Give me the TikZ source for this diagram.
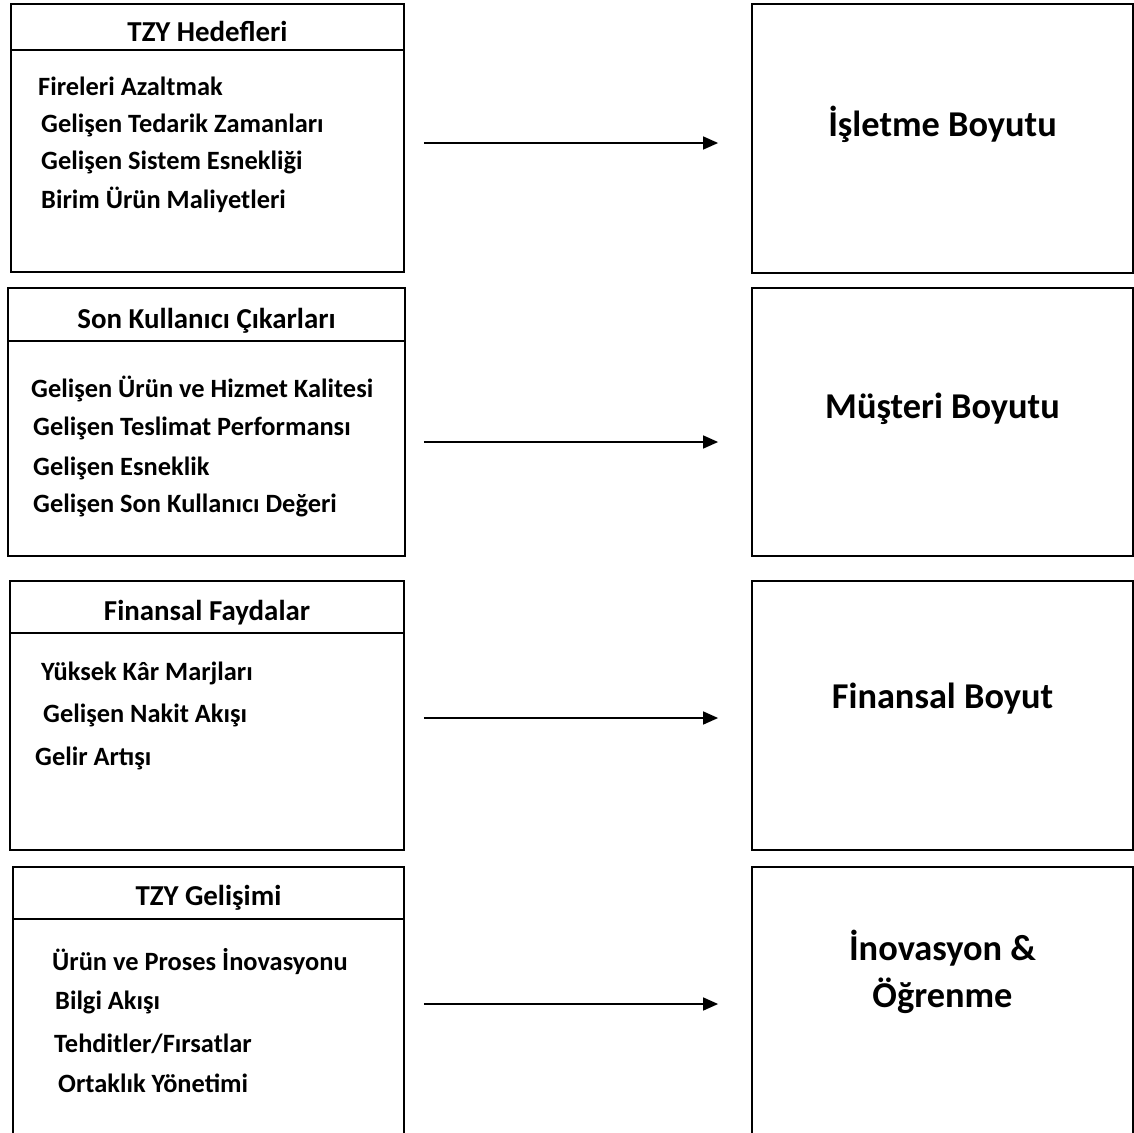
\documentclass[tikz,border=0pt]{standalone}
\usepackage{fontspec}
\setmainfont{Carlito}
\usetikzlibrary{arrows.meta}

\begin{document}
\begin{tikzpicture}[x=1bp,y=-1bp,
  box/.style={draw, line width=1.8bp, inner sep=0pt},
  rule/.style={line width=1.5bp},
  head/.style={font=\fontsize{29}{34}\selectfont\bfseries, anchor=base, inner sep=0pt},
  item/.style={font=\fontsize{26.5}{32}\selectfont\bfseries, anchor=base west, inner sep=0pt},
  dimtext/.style={font=\fontsize{36.5}{47}\selectfont\bfseries, anchor=base, inner sep=0pt, align=center},
  flow/.style={line width=1.5bp, -{Triangle[length=15bp,width=13bp]}}
]
\clip (0,0) rectangle (1134,1133);
\fill[white] (0,0) rectangle (1134,1133);

% left column: source boxes with a header strip
\node[box, minimum width=393bp, minimum height=268bp] (L1) at (207.5,138) {};
\node[box, minimum width=397bp, minimum height=268bp] (L2) at (206.5,422) {};
\node[box, minimum width=394bp, minimum height=269bp] (L3) at (207,715.5) {};
\node[box, minimum width=391bp, minimum height=283bp] (L4) at (208.5,1008.5) {};

\draw[rule] (L1.west |- 0,50)  -- (L1.east |- 0,50);
\draw[rule] (L2.west |- 0,341) -- (L2.east |- 0,341);
\draw[rule] (L3.west |- 0,633) -- (L3.east |- 0,633);
\draw[rule] (L4.west |- 0,919) -- (L4.east |- 0,919);

% right column: scorecard dimensions
\node[box, minimum width=381bp, minimum height=269bp] (R1) at (942.5,138.5) {};
\node[box, minimum width=381bp, minimum height=268bp] (R2) at (942.5,422) {};
\node[box, minimum width=381bp, minimum height=269bp] (R3) at (942.5,715.5) {};
\node[box, minimum width=381bp, minimum height=283bp] (R4) at (942.5,1008.5) {};

% headers
\node[head] (h1) at (207.5,41)  {TZY Hedefleri};
\node[head] (h2) at (206.5,328) {Son Kullanıcı Çıkarları};
\node[head] (h3) at (207,620)   {Finansal Faydalar};
\node[head] (h4) at (208.5,905) {TZY Gelişimi};

% items
\node[item] (a1) at (38,95)  {Fireleri Azaltmak};
\node[item] (a2) at (41,132) {Gelişen Tedarik Zamanları};
\node[item] (a3) at (41,169) {Gelişen Sistem Esnekliği};
\node[item] (a4) at (41,208) {Birim Ürün Maliyetleri};

\node[item] (b1) at (31,397) {Gelişen Ürün ve Hizmet Kalitesi};
\node[item] (b2) at (33,435) {Gelişen Teslimat Performansı};
\node[item] (b3) at (33,475) {Gelişen Esneklik};
\node[item] (b4) at (33,512) {Gelişen Son Kullanıcı Değeri};

\node[item] (c1) at (41,680) {Yüksek Kâr Marjları};
\node[item] (c2) at (43,722) {Gelişen Nakit Akışı};
\node[item] (c3) at (35,765) {Gelir Artışı};

\node[item] (d1) at (52,970)  {Ürün ve Proses İnovasyonu};
\node[item] (d2) at (55,1009) {Bilgi Akışı};
\node[item] (d3) at (54,1052) {Tehditler/Fırsatlar};
\node[item] (d4) at (58,1092) {Ortaklık Yönetimi};

% dimension labels (base anchor of the two-line label is its last line)
\node[dimtext] (t1) at (942.5,136) {İşletme Boyutu};
\node[dimtext] (t2) at (942.5,418) {Müşteri Boyutu};
\node[dimtext] (t3) at (942.5,708) {Finansal Boyut};
\node[dimtext] (t4) at (942.5,1007) {İnovasyon \&\\Öğrenme};

% connectors
\draw[flow, shorten <=19bp, shorten >=33bp] (L1.east |- 0,143)  -- (R1.west |- 0,143);
\draw[flow, shorten <=18bp, shorten >=33bp] (L2.east |- 0,442)  -- (R2.west |- 0,442);
\draw[flow, shorten <=19bp, shorten >=33bp] (L3.east |- 0,718)  -- (R3.west |- 0,718);
\draw[flow, shorten <=19bp, shorten >=33bp] (L4.east |- 0,1004) -- (R4.west |- 0,1004);
\end{tikzpicture}
\end{document}
